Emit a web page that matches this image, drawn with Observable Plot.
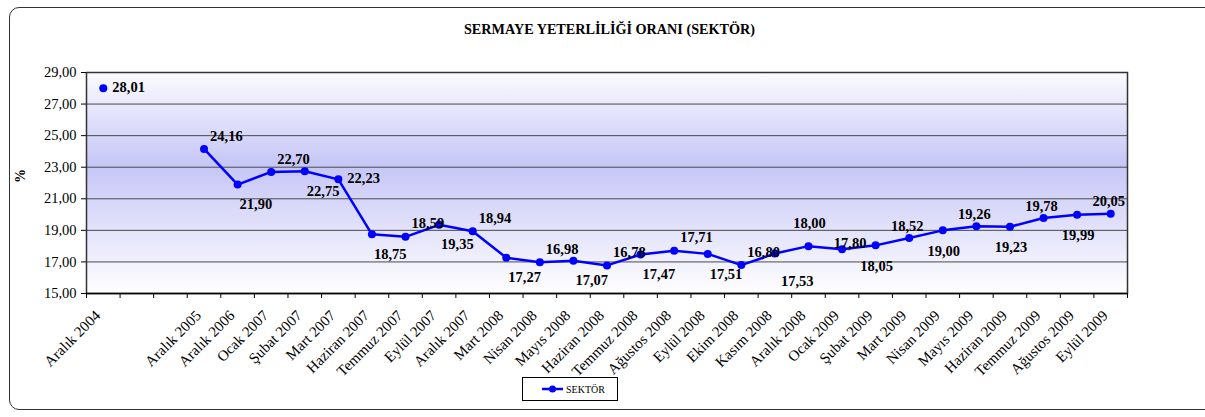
<!DOCTYPE html>
<html>
<head>
<meta charset="utf-8">
<script src="https://cdn.jsdelivr.net/npm/d3@7"></script>
<script src="https://cdn.jsdelivr.net/npm/@observablehq/plot@0.6"></script>
<style>
  body { margin: 0; background: #fff; }
  #wrap { position: relative; width: 1205px; height: 417px; overflow: hidden;
          font-family: "Liberation Serif", "Times New Roman", serif; }
  #frame { position: absolute; left: 9px; top: 7px; width: 1212px; height: 403px;
           border: 1.5px solid #333; border-radius: 10px; box-sizing: border-box; }
  #chart { position: absolute; left: 0; top: 0; }
  #title { position: absolute; left: 0; width: 1219px; top: 21px; text-align: center;
           font-weight: bold; font-size: 14.2px; color: #000; }
  #legend { position: absolute; left: 522px; top: 377px; width: 96px; height: 24px;
            border: 1px solid #000; box-sizing: border-box; background: #fff;
            display: flex; align-items: center; font-size: 10px; color: #000; }
  #legend svg { margin-left: 19px; margin-right: 2px; }
</style>
</head>
<body>
<div id="wrap">
  <div id="frame"></div>
  <div id="chart"></div>
  <div id="title">SERMAYE YETERLİLİĞİ ORANI (SEKTÖR)</div>
  <div id="legend">
    <svg width="22" height="10"><line x1="0" y1="5" x2="21" y2="5" stroke="#0000ff" stroke-width="2.5"/><circle cx="10.5" cy="5" r="3.5" fill="#0000ff"/></svg>
    <span>SEKTÖR</span>
  </div>
</div>
<script>
const categories = [
  "Aralık 2004", "", "", "Aralık 2005", "Aralık 2006", "Ocak 2007", "Şubat 2007", "Mart 2007",
  "Haziran 2007", "Temmuz 2007", "Eylül 2007", "Aralık 2007", "Mart 2008", "Nisan 2008",
  "Mayıs 2008", "Haziran 2008", "Temmuz 2008", "Ağustos 2008", "Eylül 2008", "Ekim 2008",
  "Kasım 2008", "Aralık 2008", "Ocak 2009", "Şubat 2009", "Mart 2009", "Nisan 2009",
  "Mayıs 2009", "Haziran 2009", "Temmuz 2009", "Ağustos 2009", "Eylül 2009"
];
const values = [
  28.01, null, null, 24.16, 21.90, 22.70, 22.75, 22.23,
  18.75, 18.59, 19.35, 18.94, 17.27, 16.98,
  17.07, 16.78, 17.47, 17.71, 17.51, 16.80,
  17.53, 18.00, 17.80, 18.05, 18.52, 19.00,
  19.26, 19.23, 19.78, 19.99, 20.05
];
// label placement codes: r = right, a = above-right, b = below-right, A = above, B = below,
// H = high above, L = low below, M = just above
const labelPos = [
  "r", "", "", "a", "b", "a", "b", "r",
  "b", "a", "b", "a", "b", "a",
  "b", "a", "b", "a", "b", "a",
  "L", "H", "M", "B", "A", "B",
  "A", "B", "A", "B", "A"
];
const yTicks = [15, 17, 19, 21, 23, 25, 27, 29];
const gridValues = [17, 19, 21, 23, 25, 27];
const seriesName = "SEKTÖR";

const data = categories.map((c, i) => ({ i, c, v: values[i], pos: labelPos[i] }));
const fmt = v => (v == null ? "" : v.toFixed(2).replace(".", ","));
const font = '"Liberation Serif", "Times New Roman", serif';

const gradient = () => {
  const defs = d3.create("svg:defs");
  const g = defs.append("linearGradient").attr("id", "bg")
    .attr("x1", 0).attr("y1", 0).attr("x2", 0).attr("y2", 1);
  g.append("stop").attr("offset", "0%").attr("stop-color", "#fbfbff");
  g.append("stop").attr("offset", "42%").attr("stop-color", "#c6c6f7");
  g.append("stop").attr("offset", "100%").attr("stop-color", "#ffffff");
  return defs.node();
};

const posStyle = {
  r: { dx: 9, dy: -1, anchor: "start" },
  a: { dx: 6, dy: -13, anchor: "start" },
  b: { dx: 2, dy: 20, anchor: "start" },
  A: { dx: -2, dy: -12, anchor: "middle" },
  B: { dx: 1, dy: 21, anchor: "middle" },
  H: { dx: 1, dy: -23, anchor: "middle" },
  L: { dx: 6, dy: 28, anchor: "start" },
  M: { dx: 8, dy: -6, anchor: "middle" }
};

const labelMarks = Object.entries(posStyle).map(([k, s]) =>
  Plot.text(data, {
    filter: d => d.pos === k && d.v != null,
    x: "i", y: "v", text: d => fmt(d.v),
    dx: s.dx, dy: s.dy, textAnchor: s.anchor,
    fontWeight: "bold", fontSize: 14.5, fill: "#000"
  })
);

const chart = Plot.plot({
  width: 1205, height: 417,
  marginLeft: 86, marginRight: 78, marginTop: 72, marginBottom: 124,
  x: { type: "linear", domain: [-0.5, categories.length - 0.5] },
  y: { domain: [15, 29] },
  style: { fontFamily: font, background: "transparent", color: "#000", overflow: "visible" },
  marks: [
    gradient,
    Plot.frame({ fill: "url(#bg)" }),
    Plot.ruleY(gridValues, { stroke: "#4a4a4a", strokeWidth: 1 }),
    Plot.frame({ stroke: "#333", strokeWidth: 1.5 }),
    Plot.ruleY([15], { stroke: "#000", strokeWidth: 1.5 }),
    Plot.axisY({ ticks: yTicks, tickFormat: fmt, tickSize: 5, tickPadding: 5,
                 fontSize: 14.5, label: null, stroke: "#000" }),
    Plot.axisX({ ticks: d3.range(categories.length + 1).map(i => i - 0.5),
                 tickFormat: () => "", tickSize: 5, label: null, stroke: "#000" }),
    Plot.text(data, { filter: d => d.c, x: "i", frameAnchor: "bottom", text: "c",
                      dx: -2, dy: 23, rotate: -45, textAnchor: "end", fontSize: 15, fill: "#000" }),
    Plot.text(["%"], { frameAnchor: "left", text: d => d, dx: -66, rotate: -90,
                       fontWeight: "bold", fontSize: 14, fill: "#000" }),
    Plot.line(data, { x: "i", y: "v", stroke: "#0000ff", strokeWidth: 2.5 }),
    Plot.dot(data, { filter: d => d.v != null, x: "i", y: "v", r: 4, fill: "#0000ff" }),
    ...labelMarks
  ]
});
document.getElementById("chart").appendChild(chart);
</script>
</body>
</html>
